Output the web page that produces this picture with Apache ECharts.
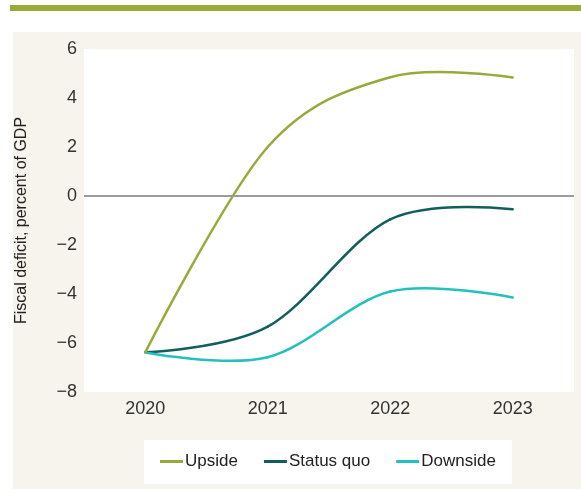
<!DOCTYPE html>
<html lang="en">
<head>
    <meta charset="UTF-8">
    <title>Fiscal deficit scenarios</title>
    <script src="https://cdn.jsdelivr.net/npm/echarts@6/dist/echarts.min.js"></script>
    <style>
        html, body {
            margin: 0;
            padding: 0;
            background: #fff;
        }

        #chart {
            width: 581px;
            height: 489px;
        }
    </style>
</head>
<body>
    <div id="chart"></div>

    <script>
        const years = ['2020', '2021', '2022', '2023'];
        const upside = [-6.38, 2.0, 4.85, 4.84];
        const statusQuo = [-6.38, -5.33, -0.95, -0.54];
        const downside = [-6.39, -6.58, -3.9, -4.14];

        const FONT = "'Liberation Sans Narrow', 'Liberation Sans', sans-serif";
        const chart = echarts.init(document.getElementById('chart'));

        // spline like the original (catmull-rom, flat ends), one bezier per segment
        function splineSeries(name, values, color) {
            return {
                name: name,
                type: 'custom',
                itemStyle: { color: color },
                data: values.map((v, i) => [i, v]),
                renderItem: function (params, api) {
                    const i = params.dataIndex;
                    const n = values.length;
                    if (i >= n - 1) return null;
                    const P = k => api.coord([k, values[k]]);
                    const p0 = P(i), p1 = P(i + 1);
                    const m0 = i === 0 ? [0, 0] : [(p1[0] - P(i - 1)[0]) / 2, (p1[1] - P(i - 1)[1]) / 2];
                    const m1 = i + 1 === n - 1 ? [0, 0] : [(P(i + 2)[0] - p0[0]) / 2, (P(i + 2)[1] - p0[1]) / 2];
                    return {
                        type: 'bezierCurve',
                        shape: {
                            x1: p0[0], y1: p0[1],
                            cpx1: p0[0] + m0[0] / 3, cpy1: p0[1] + m0[1] / 3,
                            cpx2: p1[0] - m1[0] / 3, cpy2: p1[1] - m1[1] / 3,
                            x2: p1[0], y2: p1[1]
                        },
                        style: { stroke: color, lineWidth: 2.5, fill: null, lineCap: 'round' }
                    };
                }
            };
        }

        const series = [
            splineSeries('Upside', upside, '#9aa93a'),
            splineSeries('Status quo', statusQuo, '#115f5b'),
            splineSeries('Downside', downside, '#24c0be')
        ];

        // grey zero line
        series[0].markLine = {
            silent: true,
            symbol: 'none',
            label: { show: false },
            lineStyle: { color: '#9b9b9b', width: 2, type: 'solid' },
            data: [{ yAxis: 0 }]
        };
        series[0].z = 3;

        chart.setOption({
            textStyle: { fontFamily: FONT },
            animation: false,
            graphic: [
                { type: 'rect', shape: { x: 10, y: 5, width: 571, height: 6 }, style: { fill: '#9aab3c' }, z: -10 },
                { type: 'rect', shape: { x: 13, y: 32, width: 568, height: 457 }, style: { fill: '#f7f3ed' }, z: -10 }
            ],
            grid: {
                left: 84,
                right: 7,
                top: 49,
                bottom: 97,
                show: true,
                backgroundColor: '#fff',
                borderWidth: 0
            },
            legend: {
                left: 144,
                top: 440,
                padding: [13, 16, 14, 16],
                backgroundColor: '#fff',
                icon: 'rect',
                itemWidth: 23,
                itemHeight: 3,
                itemGap: 26,
                textStyle: { fontFamily: FONT, fontSize: 17, color: '#222', padding: [0, 0, 0, -3] },
                data: ['Upside', 'Status quo', 'Downside']
            },
            xAxis: {
                type: 'category',
                data: years,
                boundaryGap: true,
                axisLine: { show: false },
                axisTick: { show: false },
                axisLabel: { fontSize: 18, color: '#333', margin: 8 }
            },
            yAxis: {
                type: 'value',
                min: -8,
                max: 6,
                interval: 2,
                name: 'Fiscal deficit, percent of GDP',
                nameLocation: 'middle',
                nameRotate: 90,
                nameGap: 54,
                nameTextStyle: { fontSize: 16, color: '#222' },
                axisLine: { show: false },
                axisTick: { show: false },
                splitLine: { show: false },
                axisLabel: {
                    fontSize: 18,
                    color: '#333',
                    margin: 7,
                    formatter: v => String(v).replace('-', '\u2212')
                }
            },
            series: series
        });
    </script>
</body>
</html>
